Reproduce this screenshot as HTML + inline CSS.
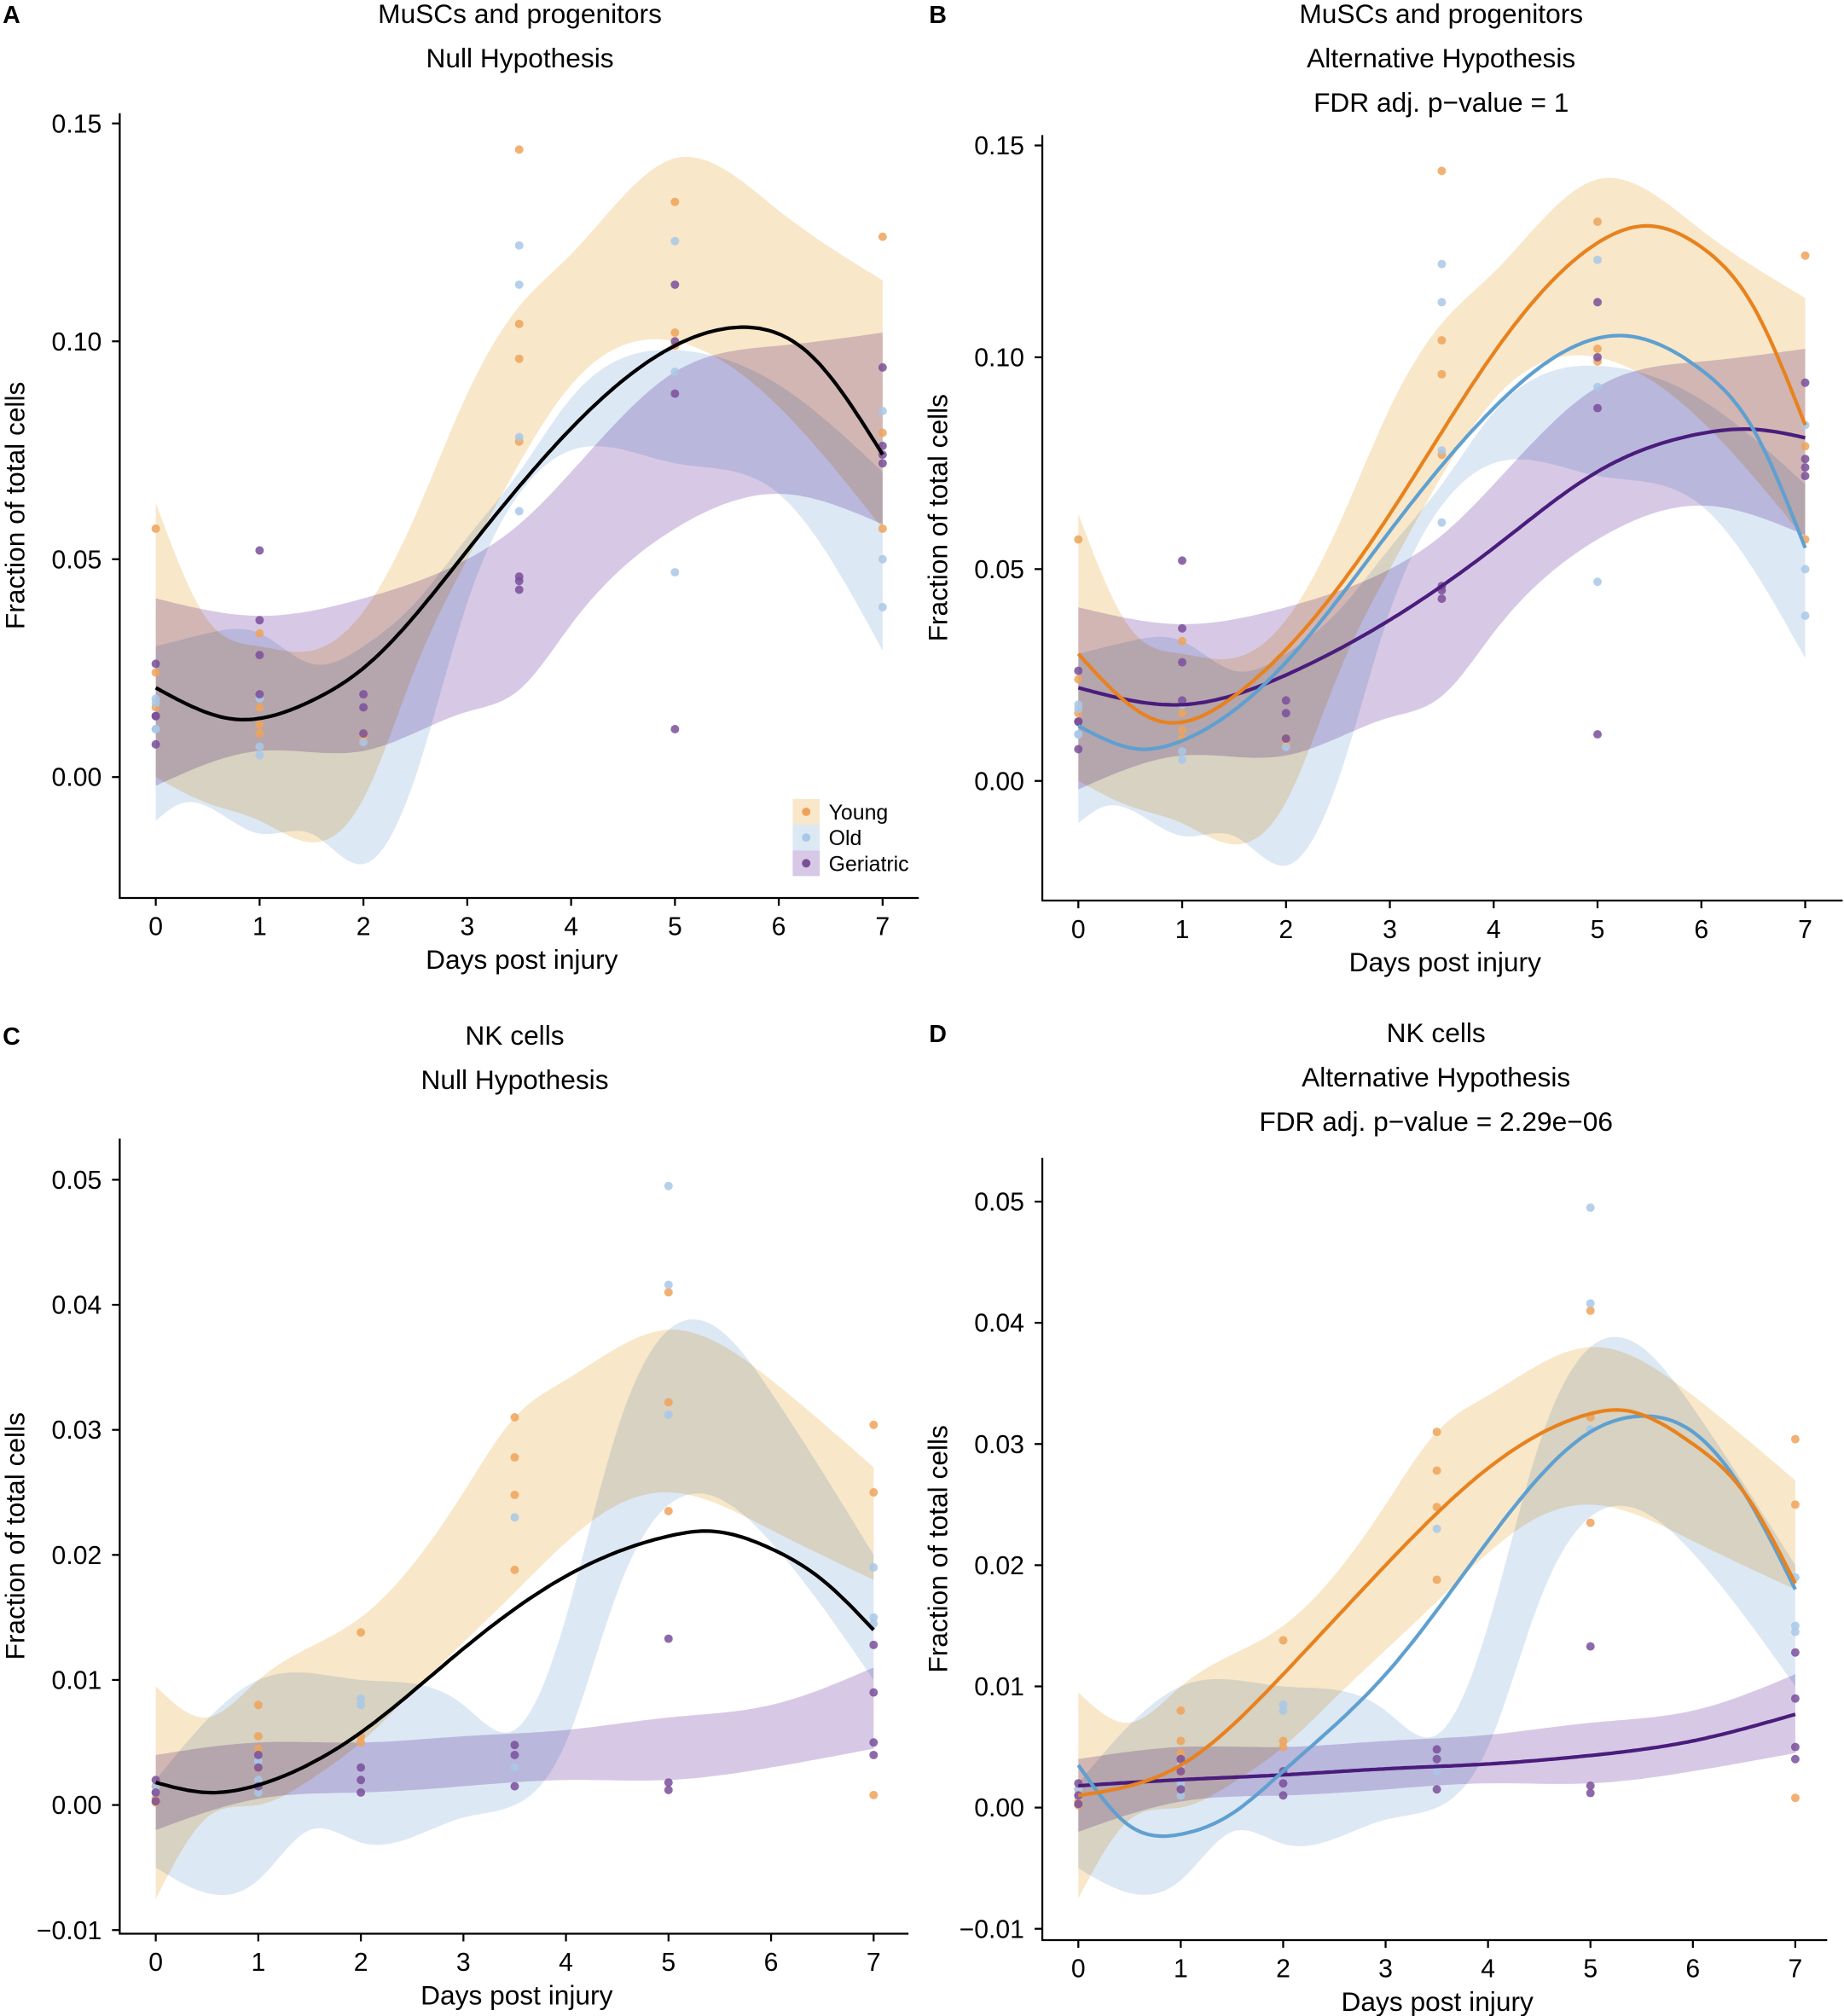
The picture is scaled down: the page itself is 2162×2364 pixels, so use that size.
<!DOCTYPE html>
<html><head><meta charset="utf-8"><style>html,body{margin:0;padding:0;background:#fff}svg{display:block}text{font-family:"Liberation Sans",Arial,sans-serif;fill:#000}.b{mix-blend-mode:multiply}</style></head>
<body>
<svg id="s" width="2162" height="2364" viewBox="0 0 1433 1567" xmlns="http://www.w3.org/2000/svg"></svg>
<script>
const S=document.getElementById('s');let h='';
function spline(pts){const n=pts.length,x=pts.map(p=>p[0]),y=pts.map(p=>p[1]);
 const a=new Array(n).fill(0),b=new Array(n).fill(0),c=new Array(n).fill(0),r=new Array(n).fill(0),m=new Array(n).fill(0);
 b[0]=1;b[n-1]=1;
 for(let i=1;i<n-1;i++){const h0=x[i]-x[i-1],h1=x[i+1]-x[i];a[i]=h0;b[i]=2*(h0+h1);c[i]=h1;r[i]=6*((y[i+1]-y[i])/h1-(y[i]-y[i-1])/h0);}
 for(let i=1;i<n;i++){const w=a[i]/b[i-1];b[i]-=w*c[i-1];r[i]-=w*r[i-1];}
 m[n-1]=r[n-1]/b[n-1];for(let i=n-2;i>=0;i--)m[i]=(r[i]-c[i]*m[i+1])/b[i];
 return t=>{let i=0;while(i<n-2&&t>x[i+1])i++;const hh=x[i+1]-x[i],A=(x[i+1]-t)/hh,B=(t-x[i])/hh;
  return A*y[i]+B*y[i+1]+((A*A*A-A)*m[i]+(B*B*B-B)*m[i+1])*hh*hh/6;};}
function sample(pts,N=140){const f=spline(pts),x0=pts[0][0],x1=pts[pts.length-1][0],o=[];
 for(let i=0;i<=N;i++){const t=x0+(x1-x0)*i/N;o.push([t,f(t)]);}return o;}
const COL={Y:'#eea35a',O:'#a9c8e8',G:'#7a4f9a'};
const BAND={Y:'#f8e7c9',O:'#dde8f5',G:'#d7c9e5'};
const LINE={Y:'#e8821e',O:'#5fa0d0',G:'#4a1c7c'};
function panel(P){
 const X=v=>P.x0+v*P.dx, Y=v=>P.y0-v*P.dy;
 const M=a=>a.map(p=>X(p[0]).toFixed(1)+','+Y(p[1]).toFixed(1)).join(' ');
 for(const k of ['Y','O','G']){const b=P.bands[k];const up=sample(b[0]),lo=sample(b[1]).reverse();
  h+=`<polygon class="b" points="${M(up)} ${M(lo)}" fill="${BAND[k]}"/>`;}
 for(const k of ['Y','O','G']){for(const [d,vals] of P.pts[k])for(const v of vals)h+=`<circle cx="${X(d)}" cy="${Y(v)}" r="3.3" fill="${COL[k]}" fill-opacity="0.85"/>`;}
 for(const c of P.curves)h+=`<polyline points="${M(sample(c.p,200))}" fill="none" stroke="${c.c}" stroke-width="2.8" stroke-linejoin="round"/>`;
 h+=`<path d="M${P.ax},${P.yt} V${P.ab} H${P.ar}" fill="none" stroke="#000" stroke-width="1.5"/>`;
 for(let i=0;i<=7;i++){h+=`<line x1="${X(i)}" y1="${P.ab}" x2="${X(i)}" y2="${P.ab+6}" stroke="#000" stroke-width="1.5"/><text x="${X(i)}" y="${P.ab+29}" font-size="20" text-anchor="middle">${i}</text>`;}
 for(const t of P.yt2){h+=`<line x1="${P.ax-6}" y1="${Y(t[0])}" x2="${P.ax}" y2="${Y(t[0])}" stroke="#000" stroke-width="1.5"/><text x="${P.ax-14}" y="${Y(t[0])+7}" font-size="20" text-anchor="end">${t[1]}</text>`;}
 const cx=(P.ax+P.ar)/2+2;
 h+=`<text x="${cx}" y="${P.ab+55}" font-size="21" text-anchor="middle">Days post injury</text>`;
 const my=(P.yt+P.ab)/2;
 h+=`<text transform="translate(${P.ax-74},${my}) rotate(-90)" font-size="21" text-anchor="middle">Fraction of total cells</text>`;
 P.titles.forEach((t,i)=>h+=`<text x="${P.tx}" y="${P.ty+i*34.5}" font-size="21" text-anchor="middle">${t}</text>`);
 h+=`<text x="${P.lx}" y="${P.ty}" font-size="19" font-weight="bold">${P.letter}</text>`;
}
const bandsAB={
 Y:[[[0,0.063],[0.5,0.036],[1,0.030],[1.5,0.029],[2,0.038],[2.5,0.06],[3,0.088],[3.5,0.108],[4,0.12],[5,0.142],[6,0.13],[7,0.114]],
    [[0,0.0],[0.5,-0.006],[1,-0.01],[1.5,-0.015],[2,-0.005],[2.5,0.025],[3,0.05],[3.5,0.072],[4,0.09],[5,0.1],[6,0.085],[7,0.057]]],
 O:[[[0,0.03],[0.5,0.033],[1,0.033],[1.5,0.026],[2,0.03],[2.5,0.04],[3,0.055],[3.5,0.07],[4,0.087],[5,0.098],[6,0.09],[7,0.07]],
    [[0,-0.01],[0.25,-0.006],[1,-0.013],[1.5,-0.013],[2,-0.02],[2.5,0.0],[3,0.04],[3.5,0.065],[4,0.075],[5,0.072],[6,0.065],[7,0.029]]],
 G:[[[0,0.041],[1,0.037],[2,0.041],[3,0.05],[3.5,0.058],[4,0.07],[5,0.093],[6,0.099],[7,0.102]],
    [[0,-0.002],[1,0.006],[2,0.006],[3,0.015],[3.5,0.02],[4,0.035],[5,0.057],[6,0.065],[7,0.058]]]};
const ptsAB={
 Y:[[0,[0.057,0.024,0.016]],[1,[0.033,0.016,0.012,0.01]],[2,[0.009,0.01]],[3.5,[0.144,0.104,0.096,0.077]],[5,[0.132,0.102,0.099]],[7,[0.124,0.079,0.057]]],
 O:[[0,[0.018,0.011,0.017,0.011]],[1,[0.007,0.005,0.018]],[2,[0.008]],[3.5,[0.122,0.113,0.078,0.061]],[5,[0.123,0.093,0.047]],[7,[0.084,0.050,0.039]]],
 G:[[0,[0.026,0.014,0.0075,0.014]],[1,[0.052,0.036,0.028,0.019]],[2,[0.019,0.016,0.01]],[3.5,[0.046,0.045,0.043]],[5,[0.113,0.1,0.088,0.011]],[7,[0.094,0.076,0.074,0.072]]]};
const bandsCD={
 Y:[[[0,0.0095],[0.5,0.007],[1,0.01],[2,0.015],[3,0.025],[3.5,0.031],[4,0.034],[5,0.038],[6,0.034],[7,0.027]],
    [[0,-0.0075],[0.5,-0.001],[1,0.0],[1.5,0.002],[2,0.005],[2.5,0.009],[3,0.013],[3.5,0.017],[4,0.021],[4.5,0.024],[5,0.025],[5.5,0.024],[6,0.022],[7,0.018]]],
 O:[[[0,0.002],[1,0.01],[2,0.01],[3,0.008],[3.5,0.006],[4,0.015],[4.5,0.03],[5,0.038],[5.5,0.038],[6,0.033],[7,0.02]],
    [[0,-0.005],[1,-0.006],[1.5,-0.002],[2,-0.003],[3,-0.001],[3.5,0.0],[4,0.005],[4.5,0.017],[5,0.024],[6,0.021],[7,0.01]]],
 G:[[[0,0.004],[1,0.005],[2,0.005],[3,0.0055],[4,0.006],[5,0.007],[6,0.008],[7,0.011]],
    [[0,-0.002],[1,0.0005],[2,0.001],[3,0.0015],[4,0.002],[5,0.002],[6,0.003],[7,0.0045]]]};
const ptsCD={
 Y:[[0,[0.0015,0.0005,0.0002]],[1,[0.008,0.0055,0.0045,0.003]],[2,[0.0138,0.0055,0.005]],[3.5,[0.031,0.0278,0.0248,0.0188]],[5,[0.041,0.0322,0.0235]],[7,[0.0304,0.025,0.0008]]],
 O:[[0,[0.001,0.0015]],[1,[0.0035,0.002,0.001]],[2,[0.0085,0.008]],[3.5,[0.023,0.004,0.003]],[5,[0.0495,0.0416,0.0312]],[7,[0.019,0.015,0.0145]]],
 G:[[0,[0.002,0.001,0.0003]],[1,[0.004,0.003,0.0015]],[2,[0.003,0.002,0.001]],[3.5,[0.0048,0.004,0.0015]],[5,[0.0133,0.0018,0.0012]],[7,[0.0128,0.009,0.005,0.004]]]};
const ytAB=[[0,'0.00'],[0.05,'0.05'],[0.1,'0.10'],[0.15,'0.15']];
const ytCD=[[-0.01,'\u22120.01'],[0,'0.00'],[0.01,'0.01'],[0.02,'0.02'],[0.03,'0.03'],[0.04,'0.04'],[0.05,'0.05']];
panel({x0:121,dx:80.7,y0:604,dy:3387,ax:93,yt:88,ab:698,ar:714,yt2:ytAB,tx:404,ty:18,lx:2,letter:'A',
 titles:['MuSCs and progenitors','Null Hypothesis'],bands:bandsAB,pts:ptsAB,
 curves:[{c:'#000',p:[[0,0.0205],[0.75,0.0133],[1.5,0.0175],[2,0.025],[3,0.052],[4,0.08],[5,0.099],[5.6,0.1032],[6.3,0.097],[7,0.074]]}]});
panel({x0:838,dx:80.7,y0:607,dy:3293,ax:810,yt:105,ab:700,ar:1432,yt2:ytAB,tx:1120,ty:18,lx:722,letter:'B',
 titles:['MuSCs and progenitors','Alternative Hypothesis','FDR adj. p\u2212value = 1'],bands:bandsAB,pts:ptsAB,
 curves:[{c:LINE.G,p:[[0,0.022],[1,0.018],[2,0.025],[3,0.038],[4,0.055],[5,0.073],[6,0.082],[6.5,0.083],[7,0.081]]},
 {c:LINE.O,p:[[0,0.013],[0.6,0.0075],[1,0.0095],[2,0.028],[3,0.059],[4,0.088],[5,0.1045],[5.3,0.105],[6,0.097],[6.5,0.083],[7,0.055]]},
 {c:LINE.Y,p:[[0,0.03],[0.8,0.014],[1.5,0.02],[2,0.031],[3,0.063],[4,0.101],[5,0.127],[5.5,0.131],[6,0.126],[6.5,0.112],[7,0.084]]}]});
panel({x0:121,dx:79.7,y0:1403,dy:9720,ax:93,yt:885,ab:1503,ar:706,yt2:ytCD,tx:400,ty:812,lx:2,letter:'C',
 titles:['NK cells','Null Hypothesis'],bands:bandsCD,pts:ptsCD,
 curves:[{c:'#000',p:[[0,0.0018],[0.5,0.001],[1,0.0016],[2,0.0058],[3,0.0125],[4,0.0183],[5,0.0215],[5.4,0.0219],[6,0.0205],[6.5,0.018],[7,0.014]]}]});
panel({x0:838,dx:79.6,y0:1405,dy:9420,ax:810,yt:900,ab:1508,ar:1420,yt2:ytCD,tx:1116,ty:810,lx:722,letter:'D',
 titles:['NK cells','Alternative Hypothesis','FDR adj. p\u2212value = 2.29e\u221206'],bands:bandsCD,pts:ptsCD,
 curves:[{c:LINE.G,p:[[0,0.0018],[1,0.0023],[2,0.0027],[3,0.0032],[4,0.0036],[5,0.0043],[6,0.0055],[7,0.0077]]},
 {c:LINE.O,p:[[0,0.0035],[0.5,-0.0015],[1,-0.0022],[1.5,-0.0005],[2,0.003],[3,0.011],[4,0.022],[5,0.031],[5.5,0.0323],[6,0.031],[6.5,0.026],[7,0.018]]},
 {c:LINE.Y,p:[[0,0.001],[1,0.0035],[2,0.011],[3,0.02],[4,0.028],[5,0.0325],[5.3,0.0328],[6,0.03],[6.5,0.026],[7,0.0185]]}]});
[['Y','Young',631],['O','Old',651],['G','Geriatric',671]].forEach(([k,t,y])=>{
 h+=`<rect x="616" y="${y-10}" width="21" height="20" fill="${BAND[k]}"/><circle cx="626.5" cy="${y}" r="3.3" fill="${COL[k]}"/><text x="644" y="${y+6}" font-size="16.5">${t}</text>`;});
S.innerHTML=h;
</script>
</body></html>
